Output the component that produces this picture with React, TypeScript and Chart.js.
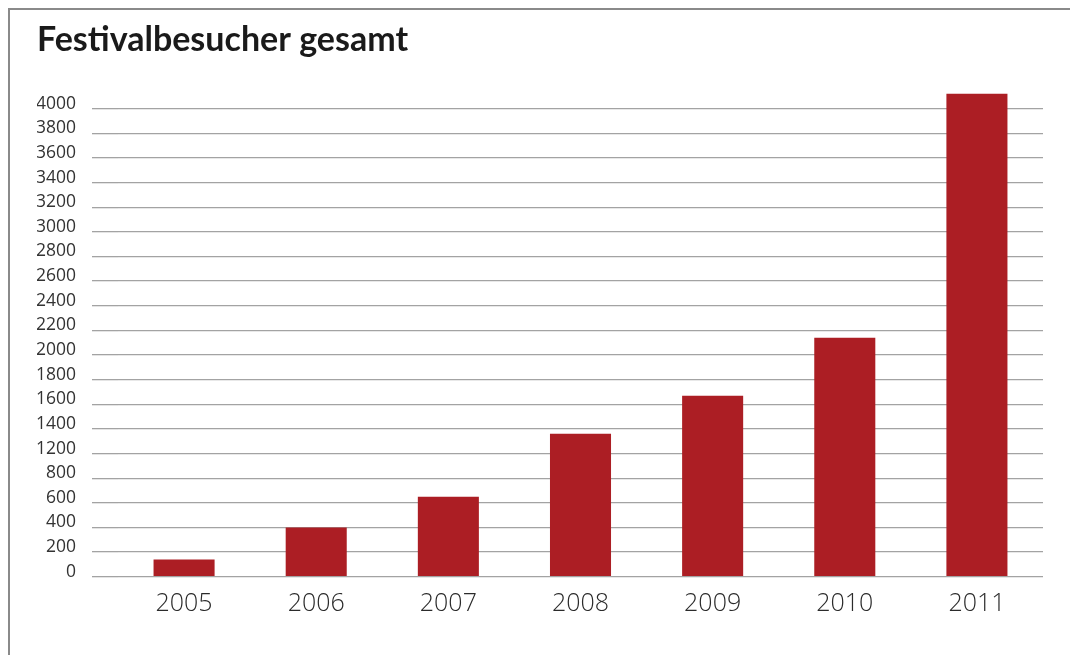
import React, { useEffect, useRef } from "react";
import { Chart, registerables } from "chart.js";

Chart.register(...registerables);

const titleText = "Festivalbesucher gesamt";
const categories = ["2005", "2006", "2007", "2008", "2009", "2010", "2011"];
const visitors = [140, 400, 650, 1360, 1670, 2140, 4120];
// tick labels exactly as printed on the original axis (note: 1000 is absent)
const yTickLabels = [
  "0", "200", "400", "600", "800", "1200", "1400", "1600", "1800", "2000",
  "2200", "2400", "2600", "2800", "3000", "3200", "3400", "3600", "3800", "4000",
];

const yTickValues = yTickLabels.map(Number);

// map a value read against the printed labels to its position on the drawn axis
function toAxis(v: number): number {
  const n = yTickValues.length;
  for (let i = 1; i < n; i++) {
    if (v <= yTickValues[i]) {
      return i - 1 + (v - yTickValues[i - 1]) / (yTickValues[i] - yTickValues[i - 1]);
    }
  }
  return n - 1 + (v - yTickValues[n - 1]) / (yTickValues[n - 1] - yTickValues[n - 2]);
}

export default function App() {
  const ref = useRef<HTMLCanvasElement | null>(null);

  useEffect(() => {
    const root = document.getElementById("root");
    if (root) {
      root.style.border = "none";
      root.style.outline = "none";
      root.style.boxShadow = "none";
    }
    document.body.style.overflow = "hidden";
    if (!ref.current) return;
    const gridColor = "#a3a3a3";
    const chart = new Chart(ref.current, {
      type: "bar",
      data: {
        labels: categories,
        datasets: [
          {
            data: visitors.map(toAxis),
            backgroundColor: "#ac1e24",
            borderWidth: 0,
            categoryPercentage: 1,
            barPercentage: 0.462,
          },
        ],
      },
      options: {
        responsive: false,
        animation: false,
        layout: { padding: { left: 27, right: 19, top: 0, bottom: 0 } },
        plugins: {
          legend: { display: false },
          tooltip: { enabled: false },
          title: {
            display: true,
            text: titleText,
            align: "start",
            color: "#1a1a1a",
            font: { family: "Lato", size: 34, weight: "bold" },
            padding: { top: 10, bottom: 23.2 },
          },
        },
        scales: {
          x: {
            grid: { display: false },
            border: { display: false },
            ticks: {
              color: "#2b2b2b",
              font: { family: "Open Sans", size: 25, weight: "300" },
              padding: 4,
            },
            afterFit: (s: any) => {
              s.height = 68.3;
            },
          },
          y: {
            min: 0,
            max: 20,
            border: { display: false },
            grid: {
              color: gridColor,
              tickColor: gridColor,
              lineWidth: 1.3,
              drawTicks: true,
              tickLength: 26,
            },
            ticks: {
              stepSize: 1,
              padding: 16,
              labelOffset: -5,
              color: "#333333",
              font: { family: "Open Sans", size: 17.5 },
              callback: (v: any) => yTickLabels[Number(v)] ?? "",
            },
            afterBuildTicks: (s: any) => {
              s.ticks = s.ticks.filter((t: any) => t.value <= yTickLabels.length - 1);
            },
            afterFit: (s: any) => {
              s.width = 81;
            },
          },
        },
      },
    });
    return () => {
      chart.destroy();
    };
  }, []);

  return (
    <div
      style={{
        position: "absolute",
        left: 8,
        top: 8,
        width: 1100,
        height: 700,
        borderTop: "2px solid #8a8a8a",
        borderLeft: "2px solid #8a8a8a",
        boxSizing: "border-box",
      }}
    >
      <canvas ref={ref} width={1052} height={635} style={{ display: "block" }} />
    </div>
  );
}
